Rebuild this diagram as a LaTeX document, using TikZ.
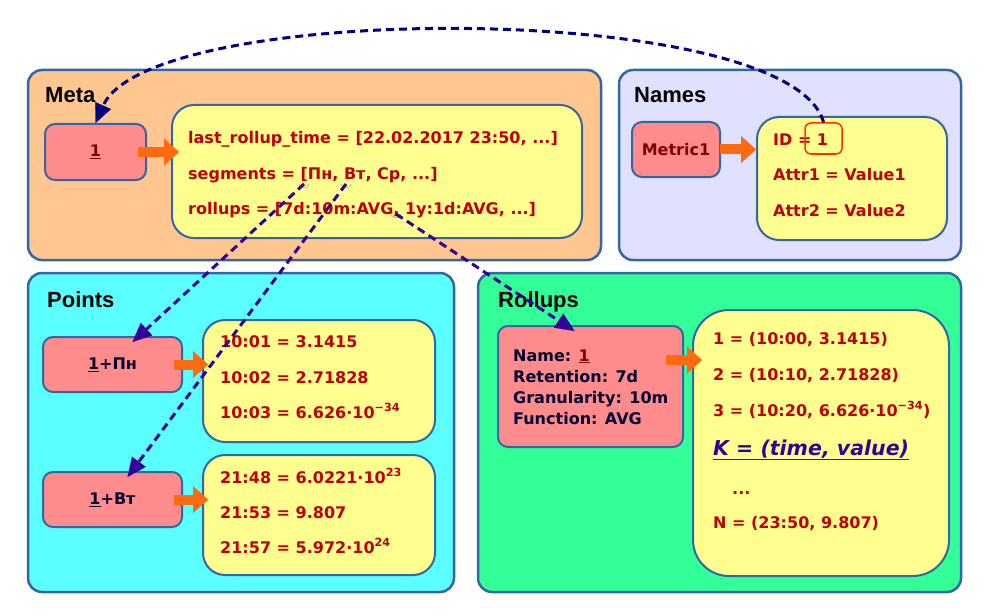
\documentclass[tikz,border=0pt]{standalone}
\usepackage{fontspec}
\setmainfont{DejaVu Sans}
\newfontfamily\titlefont{Liberation Sans}
\usetikzlibrary{arrows.meta}
\definecolor{metafill}{HTML}{FFC690}
\definecolor{namesfill}{HTML}{E0E0FF}
\definecolor{pointsfill}{HTML}{5CFFFF}
\definecolor{rollfill}{HTML}{33FF99}
\definecolor{frame}{HTML}{3465A4}
\definecolor{yel}{HTML}{FFFF8F}
\definecolor{pinkfill}{HTML}{FF8C8C}
\definecolor{redtxt}{HTML}{C00000}
\definecolor{maroontxt}{HTML}{800000}
\definecolor{navytxt}{HTML}{000033}
\definecolor{oarr}{HTML}{FF6A10}
\definecolor{dnavy}{HTML}{000080}
\definecolor{indig}{HTML}{330099}
\definecolor{idred}{HTML}{FF3300}
\tikzset{
 outerbox/.style={draw=frame, line width=2.5pt, rounded corners=14pt, inner sep=0pt},
 ybox/.style={draw=frame, line width=2pt, fill=yel, rounded corners=22pt, inner sep=0pt},
 pbox/.style={draw=frame, line width=2pt, fill=pinkfill, rounded corners=10pt, inner sep=0pt},
 ttl/.style={anchor=mid west, inner sep=0pt, yshift=-5pt, font=\titlefont\bfseries\fontsize{22}{25}\selectfont, text=black},
 ctxt/.style={anchor=mid west, inner sep=0pt, yshift=-3.5pt, font=\bfseries\fontsize{16}{19}\selectfont, text=redtxt},
 ptxt/.style={inner sep=0pt, font=\bfseries\fontsize{16}{19}\selectfont, text=navytxt},
 oarrow/.style={draw=oarr, line width=10pt, -{Triangle[length=15pt,width=27pt,line width=0.1pt]}},
 dconn/.style={draw=dnavy, line width=3pt, dash pattern=on 8pt off 5pt, -{Triangle[length=19pt,width=17pt,line width=0.1pt]}},
 glue/.style={draw=gray!60, line width=0.8pt},
}
\begin{document}
\begin{tikzpicture}[x=1pt,y=-1pt]
\useasboundingbox (0,0) rectangle (985,615);
% outer boxes
\node[outerbox, fill=metafill, minimum width=573pt, minimum height=190pt] (meta) at (314.5,165) {};
\node[outerbox, fill=namesfill, minimum width=342pt, minimum height=190pt] (names) at (790,165) {};
\node[outerbox, fill=pointsfill, minimum width=426pt, minimum height=319pt] (points) at (241,432.5) {};
\node[outerbox, fill=rollfill, minimum width=483pt, minimum height=319pt] (rollups) at (719.5,432.5) {};
% titles
\node[ttl] (tmeta) at (45,95) {Meta};
\node[ttl] (tnames) at (634,95) {Names};
\node[ttl] (tpoints) at (47,300) {Points};
\node[ttl] (trollups) at (498,300) {Rollups};
% Meta
\node[pbox, minimum width=101pt, minimum height=56pt, ptxt] (m1) at (95.5,152) {\textcolor{maroontxt}{\underline{1}}};
\node[ybox, minimum width=410pt, minimum height=133pt] (my) at (377,171.5) {};
\node[ctxt] (ml1) at (188,137) {last\_rollup\_time = [22.02.2017 23:50, ...]};
\node[ctxt] (ml2) at (188,173) {segments = [Пн, Вт, Ср, ...]};
\node[ctxt] (ml3) at (188,208) {rollups = [7d:10m:AVG, 1y:1d:AVG, ...]};
% Names
\node[pbox, minimum width=88pt, minimum height=55pt, ptxt, text=maroontxt] (n1) at (676,149.5) {Metric1};
\node[ybox, minimum width=190pt, minimum height=123pt] (ny) at (852,178.5) {};
\node[ctxt] (nl1) at (773,139) {ID = 1};
\node[ctxt] (nl2) at (773,174) {Attr1 = Value1};
\node[ctxt] (nl3) at (773,210) {Attr2 = Value2};
\node[draw=idred, line width=1.5pt, rounded corners=6pt, minimum width=37pt, minimum height=31pt, inner sep=0pt] (idbox) at (823.5,138.5) {};
% Points
\node[pbox, minimum width=139pt, minimum height=55pt, ptxt] (p1) at (112.5,364.5) {\underline{1}+Пн};
\node[ybox, minimum width=232pt, minimum height=122pt] (py1) at (319,381) {};
\node[ctxt] (pl1) at (220,341) {10:01 = 3.1415};
\node[ctxt] (pl2) at (220,377) {10:02 = 2.71828};
\node[ctxt] (pl3) at (220,412) {10:03 = 6.626·10\textsuperscript{−34}};
\node[pbox, minimum width=139pt, minimum height=55pt, ptxt] (p2) at (112.5,499.5) {\underline{1}+Вт};
\node[ybox, minimum width=232pt, minimum height=120pt] (py2) at (319,515) {};
\node[ctxt] (pl4) at (220,477) {21:48 = 6.0221·10\textsuperscript{23}};
\node[ctxt] (pl5) at (220,512) {21:53 = 9.807};
\node[ctxt] (pl6) at (220,547) {21:57 = 5.972·10\textsuperscript{24}};
% Rollups
\node[pbox, minimum width=185pt, minimum height=121pt] (r1) at (590.5,386.5) {};
\node[ptxt, anchor=mid west, yshift=-3.5pt] (rl1) at (513,355) {Name: \textcolor{maroontxt}{\underline{1}}};
\node[ptxt, anchor=mid west, yshift=-3.5pt] (rl2) at (513,376) {Retention: 7d};
\node[ptxt, anchor=mid west, yshift=-3.5pt] (rl3) at (513,397) {Granularity: 10m};
\node[ptxt, anchor=mid west, yshift=-3.5pt] (rl4) at (513,418) {Function: AVG};
\node[ybox, minimum width=256pt, minimum height=266pt, rounded corners=36pt] (ry) at (821,443) {};
\node[ctxt] (rr1) at (713,338) {1 = (10:00, 3.1415)};
\node[ctxt] (rr2) at (713,374) {2 = (10:10, 2.71828)};
\node[ctxt] (rr3) at (713,410) {3 = (10:20, 6.626·10\textsuperscript{−34})};
\node[ctxt, text=indig, font=\bfseries\itshape\fontsize{20.5}{24}\selectfont] (rk) at (713,449) {\underline{K = (time, value)}};
\node[ctxt] (rdots) at (732,488) {...};
\node[ctxt] (rn) at (713,522) {N = (23:50, 9.807)};
% orange arrows
\draw[oarrow] ([xshift=-9pt]m1.east) -- ([xshift=8pt]m1.east -| my.west);
\draw[oarrow] ([xshift=-1pt]n1.east) -- (n1.east -| ny.west);
\draw[oarrow] ([xshift=-9pt]p1.east) -- ([xshift=6pt]p1.east -| py1.west);
\draw[oarrow] ([xshift=-9pt]p2.east) -- ([xshift=6pt]p2.east -| py2.west);
\coordinate (ra) at ([shift={(-18,-26.5)}]r1.east);
\coordinate (rb) at (ra -| ry.west);
\draw[oarrow] (ra) -- ([xshift=10pt]rb);
% dashed connectors
\coordinate (sPn) at (304,184);
\coordinate (sVt) at (346,184);
\coordinate (sRo) at (396,214);
\draw[glue] ([xshift=-5pt]sPn) .. controls +(0,5) and +(0,5) .. ([xshift=5pt]sPn);
\draw[glue] ([xshift=-5pt]sVt) .. controls +(0,5) and +(0,5) .. ([xshift=5pt]sVt);
\draw[glue] ([xshift=-5pt]sRo) .. controls +(0,5) and +(0,5) .. ([xshift=5pt]sRo);
\draw[dconn, draw=indig] (sPn) -- ([xshift=20pt,yshift=-6pt]p1.north);
\draw[dconn, draw=indig] (sVt) -- ([xshift=15pt,yshift=-6pt]p2.north);
\draw[dconn, draw=indig] (sRo) -- ([xshift=-16pt,yshift=-6pt]r1.north);
\draw[dconn] (idbox.north) .. controls (790,0) and (150,0) .. (m1.north);
\end{tikzpicture}
\end{document}
